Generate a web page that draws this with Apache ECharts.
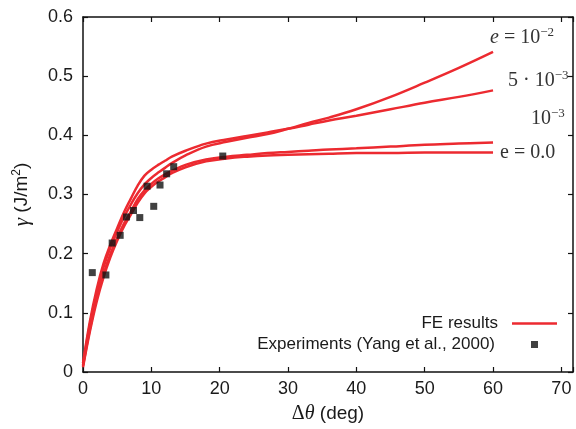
<!DOCTYPE html>
<html>
<head>
<meta charset="utf-8">
<script src="https://cdn.jsdelivr.net/npm/echarts@6/dist/echarts.min.js"></script>
<style>
  html, body { margin: 0; padding: 0; background: #fff; }
  #chart { width: 576px; height: 429px; }
</style>
</head>
<body>
<div id="chart"></div>
<script>
// misorientation angle (deg) where the FE curves are sampled
var theta = [0, 1, 2, 3, 4, 5, 6, 7, 8, 9, 10, 11, 12, 13, 15, 18, 21, 24, 27, 30, 33, 36, 40, 45, 50, 55, 60];

// FE results, one curve per e value
var gammaE0   = [0.008, 0.068, 0.119, 0.160, 0.194, 0.222, 0.246, 0.266, 0.286, 0.302, 0.313, 0.322, 0.329, 0.336, 0.346, 0.356, 0.361, 0.364, 0.366, 0.367, 0.368, 0.369, 0.370, 0.370, 0.371, 0.371, 0.371];
var gammaE1m3 = [0.010, 0.072, 0.124, 0.165, 0.199, 0.227, 0.251, 0.271, 0.292, 0.307, 0.318, 0.327, 0.334, 0.340, 0.350, 0.359, 0.364, 0.367, 0.370, 0.372, 0.374, 0.376, 0.378, 0.381, 0.384, 0.386, 0.388];
var gammaE5m3 = [0.015, 0.085, 0.140, 0.183, 0.215, 0.243, 0.270, 0.293, 0.315, 0.332, 0.342, 0.350, 0.357, 0.364, 0.374, 0.386, 0.393, 0.399, 0.405, 0.411, 0.418, 0.425, 0.433, 0.444, 0.455, 0.465, 0.476];
var gammaE1m2 = [0.012, 0.080, 0.134, 0.177, 0.210, 0.237, 0.262, 0.283, 0.302, 0.317, 0.328, 0.337, 0.345, 0.353, 0.366, 0.381, 0.389, 0.396, 0.402, 0.411, 0.421, 0.430, 0.444, 0.465, 0.489, 0.514, 0.541];

// experiments (Yang et al., 2000)
var expTheta = [1.36, 3.35, 4.27, 5.44, 6.37, 7.39, 8.31, 9.38, 10.35, 11.27, 12.24, 13.27, 20.45];
var expGamma = [0.168, 0.164, 0.218, 0.231, 0.262, 0.273, 0.261, 0.314, 0.280, 0.316, 0.335, 0.347, 0.365];

var chart = echarts.init(document.getElementById('chart'));

function pairs(xs, ys) {
    return xs.map(function (x, i) { return [x, ys[i]]; });
}

var red = '#ec2a30';
var sans = 'Liberation Sans';
var serif = 'Liberation Serif';

var labelRich = {
    it:  { fontFamily: serif, fontStyle: 'italic', fontSize: 20, color: '#333' },
    rm:  { fontFamily: serif, fontSize: 20, color: '#333' },
    sup: { fontFamily: serif, fontSize: 13, color: '#333', padding: [0, 0, 10, 0] }
};

function feSeries(ys, text, offset) {
    return {
        name: 'FE results',
        type: 'line',
        data: pairs(theta, ys),
        smooth: 0.4,
        symbol: 'none',
        lineStyle: { color: red, width: 2.5 },
        itemStyle: { color: red },
        endLabel: {
            show: true,
            formatter: function () { return text; },
            rich: labelRich,
            offset: offset
        },
        z: 2
    };
}

var axisLabelStyle = { fontFamily: sans, fontSize: 18, color: '#1a1a1a' };
var axisLineStyle = { onZero: false, lineStyle: { color: '#111', width: 1.5 } };
var tickStyle = { inside: true, length: 5, lineStyle: { color: '#111', width: 1.2 } };

option = {
    animation: false,
    grid: { left: 83, right: 1, top: 17, bottom: 57, show: false },
    legend: [
        {
            data: [{ name: 'FE results', icon: 'rect' }],
            orient: 'vertical',
            right: 19,
            top: 315,
            padding: 0,
            align: 'right',
            itemWidth: 45,
            itemHeight: 2.5,
            textStyle: { fontFamily: sans, fontSize: 17, color: '#1a1a1a', padding: [0, 9, 0, 0] }
        },
        {
            data: ['Experiments (Yang et al., 2000)'],
            orient: 'vertical',
            right: 38,
            top: 336,
            padding: 0,
            align: 'right',
            itemWidth: 7,
            itemHeight: 7,
            textStyle: { fontFamily: sans, fontSize: 17, color: '#1a1a1a', padding: [0, 31, 0, 0] }
        }
    ],
    xAxis: [
        {
            type: 'value',
            min: 0,
            max: 71.7,
            interval: 10,
            name: '{g|Δ}{it|θ}{n| (deg)}',
            nameLocation: 'middle',
            nameGap: 32,
            nameTextStyle: {
                rich: {
                    g:  { fontFamily: serif, fontSize: 20, color: '#1a1a1a' },
                    it: { fontFamily: serif, fontStyle: 'italic', fontSize: 20, color: '#1a1a1a' },
                    n:  { fontFamily: sans, fontSize: 19, color: '#1a1a1a' }
                }
            },
            axisLine: axisLineStyle,
            axisTick: tickStyle,
            axisLabel: Object.assign({ margin: 8, formatter: function (v) { return v % 10 === 0 ? v : ''; } }, axisLabelStyle),
            splitLine: { show: false }
        },
        {
            type: 'value',
            position: 'top',
            min: 0,
            max: 71.7,
            interval: 10,
            axisLine: axisLineStyle,
            axisTick: tickStyle,
            axisLabel: { show: false },
            splitLine: { show: false }
        }
    ],
    yAxis: [
        {
            type: 'value',
            min: 0,
            max: 0.6,
            interval: 0.1,
            name: '{it|γ}{n| (J/m}{sup|2}{n|)}',
            nameLocation: 'middle',
            nameGap: 50,
            nameTextStyle: {
                rich: {
                    it:  { fontFamily: serif, fontStyle: 'italic', fontSize: 21, color: '#1a1a1a' },
                    n:   { fontFamily: sans, fontSize: 19, color: '#1a1a1a' },
                    sup: { fontFamily: sans, fontSize: 12, color: '#1a1a1a', padding: [0, 0, 10, 0] }
                }
            },
            axisLine: axisLineStyle,
            axisTick: tickStyle,
            axisLabel: Object.assign({ margin: 10, formatter: function (v) { return v === 0 ? '0' : v.toFixed(1); } }, axisLabelStyle),
            splitLine: { show: false }
        },
        {
            type: 'value',
            position: 'right',
            min: 0,
            max: 0.6,
            interval: 0.1,
            axisLine: axisLineStyle,
            axisTick: tickStyle,
            axisLabel: { show: false },
            splitLine: { show: false }
        }
    ],
    series: [
        feSeries(gammaE1m2, '{it|e}{rm| = 10}{sup|−2}', [-11, -14]),
        feSeries(gammaE5m3, '{rm|5 · 10}{sup|−3}', [7, -10]),
        feSeries(gammaE1m3, '{rm|10}{sup|−3}', [30, -24]),
        feSeries(gammaE0, '{rm|e = 0.0}', [-1, 0]),
        {
            name: 'Experiments (Yang et al., 2000)',
            type: 'scatter',
            data: pairs(expTheta, expGamma),
            symbol: 'rect',
            symbolSize: 7,
            itemStyle: { color: '#111' },
            z: 3
        }
    ]
};

chart.setOption(option);
</script>
</body>
</html>
